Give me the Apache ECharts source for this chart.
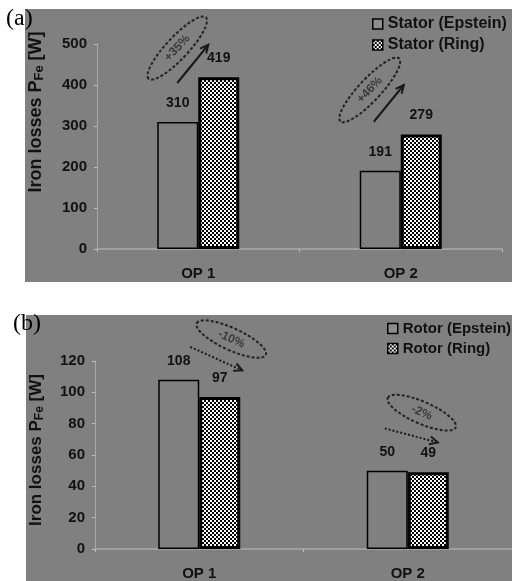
<!DOCTYPE html>
<html><head><meta charset="utf-8">
<script src="https://cdn.jsdelivr.net/npm/echarts@6/dist/echarts.min.js"></script>
<style>html,body{margin:0;padding:0;background:#fff}#c{width:512px;height:581px}</style>
</head><body><div id="c"></div>
<script>
// ---- data ----
const categories = ['OP 1', 'OP 2'];
const statorEpstein = [310, 191];
const statorRing = [419, 279];
const rotorEpstein = [108, 50];
const rotorRing = [97, 49];
const statorTicks = [0, 100, 200, 300, 400, 500];
const rotorTicks = [0, 20, 40, 60, 80, 100, 120];
const statorChange = ['+35%', '+46%'];
const rotorChange = ['-10%', '-2%'];
const legendA = ['Stator (Epstein)', 'Stator (Ring)'];
const legendB = ['Rotor (Epstein)', 'Rotor (Ring)'];

// ---- styles ----
const GRAY = '#808080';
const AX = '#a9a9a9';
const TXT = '#111';
const FONT = 'Liberation Sans, Arial, sans-serif';
const SERIF = 'Liberation Serif, Times New Roman, serif';
const checker = (function () {
  const c = document.createElement('canvas'); c.width = 4; c.height = 4;
  const g = c.getContext('2d');
  g.fillStyle = '#fff'; g.fillRect(0, 0, 4, 4);
  g.fillStyle = '#000'; g.fillRect(0, 0, 2, 2); g.fillRect(2, 2, 2, 2);
  return c;
})();
const ringFill = { image: checker, repeat: 'repeat' };

const chart = echarts.init(document.getElementById('c'));

function xAx(gi) {
  return {
    type: 'category', gridIndex: gi, data: categories,
    axisLine: { lineStyle: { color: AX, width: 1.5 } },
    axisTick: { show: true, length: 3, lineStyle: { color: '#bdbdbd' } },
    axisLabel: { color: TXT, fontWeight: 'bold', fontSize: 15, fontFamily: FONT, margin: 17 }
  };
}
function yAx(gi, ticks) {
  return {
    type: 'value', gridIndex: gi, min: ticks[0], max: ticks[ticks.length - 1],
    interval: ticks[1] - ticks[0],
    axisLine: { show: true, lineStyle: { color: AX, width: 1 } },
    axisTick: { show: true, length: 3, lineStyle: { color: '#bdbdbd' } },
    splitLine: { show: false },
    axisLabel: { color: TXT, fontWeight: 'bold', fontSize: 15, fontFamily: FONT, margin: 10 }
  };
}
function barLabel() {
  return { show: true, position: 'top', distance: 12, color: TXT, fontWeight: 'bold', fontSize: 14, fontFamily: FONT };
}
function epsteinSeries(name, data, gi) {
  return { name, type: 'bar', xAxisIndex: gi, yAxisIndex: gi, data, barWidth: 41, barGap: '0%',
    itemStyle: { color: GRAY, borderColor: '#000', borderWidth: 1.5 }, label: barLabel() };
}
function ringSeries(name, data, gi) {
  return { name, type: 'bar', xAxisIndex: gi, yAxisIndex: gi, data, barWidth: 41, barGap: '0%',
    itemStyle: { color: ringFill, borderColor: '#000', borderWidth: 3 }, label: barLabel() };
}
function legend(names, left, top, fs) {
  return {
    orient: 'vertical', left, top, itemGap: 5, itemWidth: 10, itemHeight: 10,
    textStyle: { color: TXT, fontWeight: 'bold', fontSize: fs, fontFamily: FONT },
    data: [
      { name: names[0], icon: 'rect', itemStyle: { color: '#8c8c8c', borderColor: '#000', borderWidth: 1.5 } },
      { name: names[1], icon: 'rect', itemStyle: { color: ringFill, borderColor: '#000', borderWidth: 1.5 } }
    ]
  };
}
function yTitle(id, x, y, fs) {
  return {
    id, type: 'text', x, y, rotation: Math.PI / 2, z: 50,
    style: {
      text: '{a|Iron losses P}{s|Fe}{a| [W]}', align: 'center', verticalAlign: 'middle',
      rich: {
        a: { fontSize: fs, fontWeight: 'bold', fill: TXT, fontFamily: FONT },
        s: { fontSize: fs - 5, fontWeight: 'bold', fill: TXT, fontFamily: FONT, padding: [7, 0, 0, 0] }
      }
    }
  };
}

const baseGraphic = [
  { id: 'bgA', type: 'rect', z: -100, shape: { x: 25, y: 9, width: 487, height: 273 }, style: { fill: GRAY } },
  { id: 'bgB', type: 'rect', z: -100, shape: { x: 26, y: 315, width: 486, height: 266 }, style: { fill: GRAY } },
  { id: 'ta', type: 'text', x: 6, y: 7, z: 50, style: { text: '(a)', fontSize: 24, fontFamily: SERIF, fill: '#000' } },
  { id: 'tb', type: 'text', x: 13, y: 312, z: 50, style: { text: '(b)', fontSize: 24, fontFamily: SERIF, fill: '#000' } },
  yTitle('yta', 36, 112, 18),
  yTitle('ytb', 36, 450, 17)
];

chart.setOption({
  backgroundColor: '#fff',
  animation: false,
  grid: [
    { left: 97, top: 44, width: 405, height: 205 },
    { left: 95, top: 361, width: 417, height: 191 }
  ],
  xAxis: [xAx(0), xAx(1)],
  yAxis: [yAx(0, statorTicks), yAx(1, rotorTicks)],
  legend: [legend(legendA, 367, 11, 16), legend(legendB, 382, 316, 15)],
  series: [
    epsteinSeries(legendA[0], statorEpstein, 0),
    ringSeries(legendA[1], statorRing, 0),
    epsteinSeries(legendB[0], rotorEpstein, 1),
    ringSeries(legendB[1], rotorRing, 1)
  ],
  graphic: baseGraphic
});

// ---- annotations (placed in axis space: [category index, value] + pixel x offset) ----
const annA = [
  { cat: 0, ell: [-21, 490], arrow: [[-21, 405], [10, 498]], rot: 0.82, rx: 42, ry: 11, text: statorChange[0], dash: false },
  { cat: 1, ell: [-31, 388], arrow: [[-27, 310], [3, 400]], rot: 0.82, rx: 43, ry: 11, text: statorChange[1], dash: false }
];
const annB = [
  { cat: 0, ell: [32, 134], arrow: [[-9, 129], [43, 114]], rot: -0.43, rx: 38, ry: 11, text: rotorChange[0], dash: true },
  { cat: 1, ell: [14, 87], arrow: [[-23, 77], [30, 68]], rot: -0.41, rx: 37, ry: 11, text: rotorChange[1], dash: true }
];
function px(gi, cat, dx, v) {
  const p = chart.convertToPixel({ xAxisIndex: gi, yAxisIndex: gi }, [cat, v]);
  return [p[0] + dx, p[1]];
}
const extra = [];
function addAnn(list, gi, tag) {
  list.forEach((a, k) => {
    const c = px(gi, a.cat, a.ell[0], a.ell[1]);
    extra.push({ id: tag + 'e' + k, type: 'ellipse', z: 60, shape: { cx: c[0], cy: c[1], rx: a.rx, ry: a.ry },
      rotation: a.rot, originX: c[0], originY: c[1],
      style: { fill: 'none', stroke: '#222', lineWidth: 2, lineDash: [3, 2] } });
    extra.push({ id: tag + 't' + k, type: 'text', z: 61, x: c[0], y: c[1], rotation: a.rot,
      style: { text: a.text, align: 'center', verticalAlign: 'middle', fontSize: 12, fontWeight: 'bold', fill: '#3a3a3a', fontFamily: FONT } });
    const s = px(gi, a.cat, a.arrow[0][0], a.arrow[0][1]);
    const e = px(gi, a.cat, a.arrow[1][0], a.arrow[1][1]);
    extra.push({ id: tag + 'l' + k, type: 'line', z: 60, shape: { x1: s[0], y1: s[1], x2: e[0], y2: e[1] },
      style: { stroke: '#1a1a1a', lineWidth: a.dash ? 2 : 2.2, lineDash: a.dash ? [2, 2] : null } });
    const ang = Math.atan2(e[1] - s[1], e[0] - s[0]);
    const L = 9, W = 0.45;
    extra.push({ id: tag + 'h' + k, type: 'polyline', z: 60,
      shape: { points: [
        [e[0] - L * Math.cos(ang - W), e[1] - L * Math.sin(ang - W)],
        [e[0], e[1]],
        [e[0] - L * Math.cos(ang + W), e[1] - L * Math.sin(ang + W)]
      ] },
      style: { stroke: '#1a1a1a', lineWidth: 2, fill: 'none' } });
  });
}
addAnn(annA, 0, 'a');
addAnn(annB, 1, 'b');
chart.setOption({ graphic: baseGraphic.concat(extra) });
</script>
</body></html>
